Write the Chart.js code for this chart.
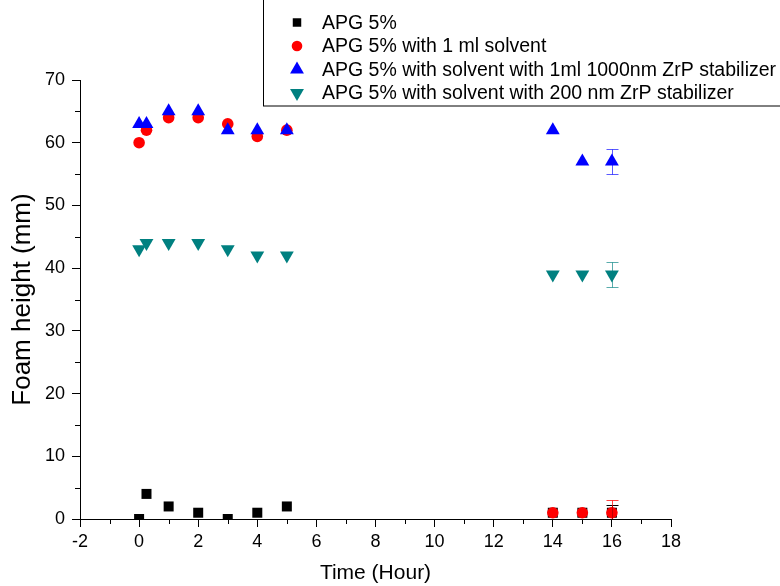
<!DOCTYPE html>
<html>
<head>
<meta charset="utf-8">
<script src="https://cdn.jsdelivr.net/npm/chart.js@4.4.0/dist/chart.umd.min.js"></script>
<style>
  html, body { margin: 0; padding: 0; background: #fff; }
  #wrap { width: 780px; height: 586px; position: relative; }
</style>
</head>
<body>
<div id="wrap"><canvas id="chart"></canvas></div>
<script>
'use strict';

// time points (hours)
const hours = [0, 0.25, 1, 2, 3, 4, 5, 14, 15, 16];

// foam heights (mm) per sample
const apg = [0, 4, 2, 1, 0, 1, 2, 1, 1, 1];
const apgSolvent = [60, 62, 64, 64, 63, 61, 62, 1, 1, 1];
const zrp1000 = [63, 63, 65, 65, 62, 62, 62, 62, 57, 57];
const zrp200 = [43, 44, 44, 44, 43, 42, 42, 39, 39, 39];

// error bars (only the last point has them)
const apgErr = [0, 0, 0, 0, 0, 0, 0, 0, 0, 1.2];
const apgSolventErr = [0, 0, 0, 0, 0, 0, 0, 0, 0, 2];
const zrp1000Err = [0, 0, 0, 0, 0, 0, 0, 0, 0, 2];
const zrp200Err = [0, 0, 0, 0, 0, 0, 0, 0, 0, 2];

const labels = [
  'APG 5%',
  'APG 5% with 1 ml solvent',
  'APG 5% with solvent with 1ml 1000nm ZrP stabilizer',
  'APG 5% with solvent with 200 nm ZrP stabilizer'
];

const xTicks = [-2, 0, 2, 4, 6, 8, 10, 12, 14, 16, 18];
const yTicks = [0, 10, 20, 30, 40, 50, 60, 70];

const FONT = '"Liberation Sans", Arial, sans-serif';

function points(ys) {
  let out = [];
  for (let i = 0; i < hours.length; i++) {
    out.push({ x: hours[i], y: ys[i] });
  }
  return out;
}

// draws the error bars from the err arrays
const errorBars = {
  id: 'errorBars',
  afterDatasetsDraw(chart) {
    const ctx = chart.ctx;
    const xs = chart.scales.x;
    const ys = chart.scales.y;
    const area = chart.chartArea;
    ctx.save();
    ctx.beginPath();
    ctx.rect(area.left, area.top - 1, area.right - area.left, area.bottom - area.top + 1);
    ctx.clip();
    chart.data.datasets.forEach(ds => {
      ctx.strokeStyle = ds.errColor;
      ctx.lineWidth = 1;
      for (let i = 0; i < ds.data.length; i++) {
        const e = ds.err[i];
        if (!e) continue;
        const px = Math.round(xs.getPixelForValue(ds.data[i].x)) + 0.5;
        const top = Math.round(ys.getPixelForValue(ds.data[i].y + e)) + 0.5;
        const bot = Math.round(ys.getPixelForValue(ds.data[i].y - e)) + 0.5;
        ctx.beginPath();
        ctx.moveTo(px, top);
        ctx.lineTo(px, bot);
        ctx.moveTo(px - 6, top);
        ctx.lineTo(px + 6, top);
        ctx.moveTo(px - 6, bot);
        ctx.lineTo(px + 6, bot);
        ctx.stroke();
      }
    });
    ctx.restore();
  }
};

// minor ticks + legend box
const extras = {
  id: 'extras',
  afterDraw(chart) {
    const ctx = chart.ctx;
    const xs = chart.scales.x;
    const ys = chart.scales.y;
    const area = chart.chartArea;
    ctx.save();
    ctx.strokeStyle = '#000';
    ctx.lineWidth = 1;
    ctx.beginPath();
    for (let v = -1; v < 18; v += 2) {
      const px = Math.round(xs.getPixelForValue(v)) + 0.5;
      ctx.moveTo(px, area.bottom);
      ctx.lineTo(px, area.bottom + 5);
    }
    for (let v = 5; v < 70; v += 10) {
      const py = Math.round(ys.getPixelForValue(v)) + 0.5;
      ctx.moveTo(area.left, py);
      ctx.lineTo(area.left - 5, py);
    }
    ctx.stroke();

    // legend
    ctx.strokeRect(263.5, -1, 600, 107);
    ctx.font = '19.5px ' + FONT;
    ctx.textBaseline = 'middle';
    ctx.fillStyle = '#000';
    const rowY = [22.5, 46, 69.5, 93];
    chart.data.datasets.forEach((ds, i) => {
      ctx.fillStyle = ds.backgroundColor;
      ctx.strokeStyle = ds.backgroundColor;
      Chart.helpers.drawPoint(ctx, {
        pointStyle: ds.pointStyle,
        rotation: ds.rotation || 0,
        radius: ds.legendRadius,
        borderWidth: 0
      }, 297, rowY[i]);
      ctx.fillStyle = '#000';
      ctx.fillText(labels[i], 322, rowY[i] + 1);
    });
    ctx.restore();
  }
};

const chartObj = {
  type: 'scatter',
  data: {
    datasets: [
      {
        label: labels[0],
        data: points(apg),
        err: apgErr,
        errColor: '#000',
        pointStyle: 'rect',
        pointRadius: 7.07,
        legendRadius: 6,
        backgroundColor: '#000000',
        borderWidth: 0,
        order: 4,
        clip: 0
      },
      {
        label: labels[1],
        data: points(apgSolvent),
        err: apgSolventErr,
        errColor: 'rgba(255,0,0,0.75)',
        pointStyle: 'circle',
        pointRadius: 5.8,
        legendRadius: 5.3,
        backgroundColor: '#ff0000',
        borderWidth: 0,
        order: 3,
        clip: 0
      },
      {
        label: labels[2],
        data: points(zrp1000),
        err: zrp1000Err,
        errColor: 'rgba(0,0,255,0.65)',
        pointStyle: 'triangle',
        pointRadius: 8,
        legendRadius: 8,
        backgroundColor: '#0000ff',
        borderWidth: 0,
        order: 2,
        clip: 0
      },
      {
        label: labels[3],
        data: points(zrp200),
        err: zrp200Err,
        errColor: 'rgba(0,128,128,0.65)',
        pointStyle: 'triangle',
        rotation: 180,
        pointRotation: 180,
        pointRadius: 8,
        legendRadius: 8,
        backgroundColor: '#008080',
        borderWidth: 0,
        order: 1,
        clip: 0
      }
    ]
  },
  options: {
    responsive: false,
    animation: false,
    layout: {
      padding: { top: 80, right: 109, left: 0, bottom: 0 }
    },
    plugins: {
      legend: { display: false },
      tooltip: { enabled: false }
    },
    scales: {
      x: {
        type: 'linear',
        min: -2,
        max: 18,
        afterBuildTicks(scale) {
          scale.ticks = xTicks.map(v => ({ value: v }));
        },
        afterFit(scale) {
          scale.height = 67;
        },
        ticks: {
          color: '#000',
          font: { family: FONT, size: 18 },
          padding: 4,
          maxRotation: 0
        },
        grid: {
          drawOnChartArea: false,
          color: '#000',
          tickLength: 8
        },
        border: { color: '#000', width: 1 },
        title: {
          display: true,
          text: 'Time (Hour)',
          color: '#000',
          font: { family: FONT, size: 21 },
          padding: { top: 0, bottom: 0 }
        }
      },
      y: {
        type: 'linear',
        min: 0,
        max: 70,
        afterBuildTicks(scale) {
          scale.ticks = yTicks.map(v => ({ value: v }));
        },
        afterFit(scale) {
          scale.width = 80;
        },
        ticks: {
          color: '#000',
          font: { family: FONT, size: 18 },
          padding: 7
        },
        grid: {
          drawOnChartArea: false,
          color: '#000',
          tickLength: 8
        },
        border: { color: '#000', width: 1 },
        title: {
          display: true,
          text: 'Foam height (mm)',
          color: '#000',
          font: { family: FONT, size: 26 },
          padding: { top: 7, bottom: 0 }
        }
      }
    }
  },
  plugins: [errorBars, extras]
};

const canvasElem = document.getElementById('chart');
canvasElem.width = 780;
canvasElem.height = 586;
new Chart(canvasElem, chartObj);
</script>
</body>
</html>
